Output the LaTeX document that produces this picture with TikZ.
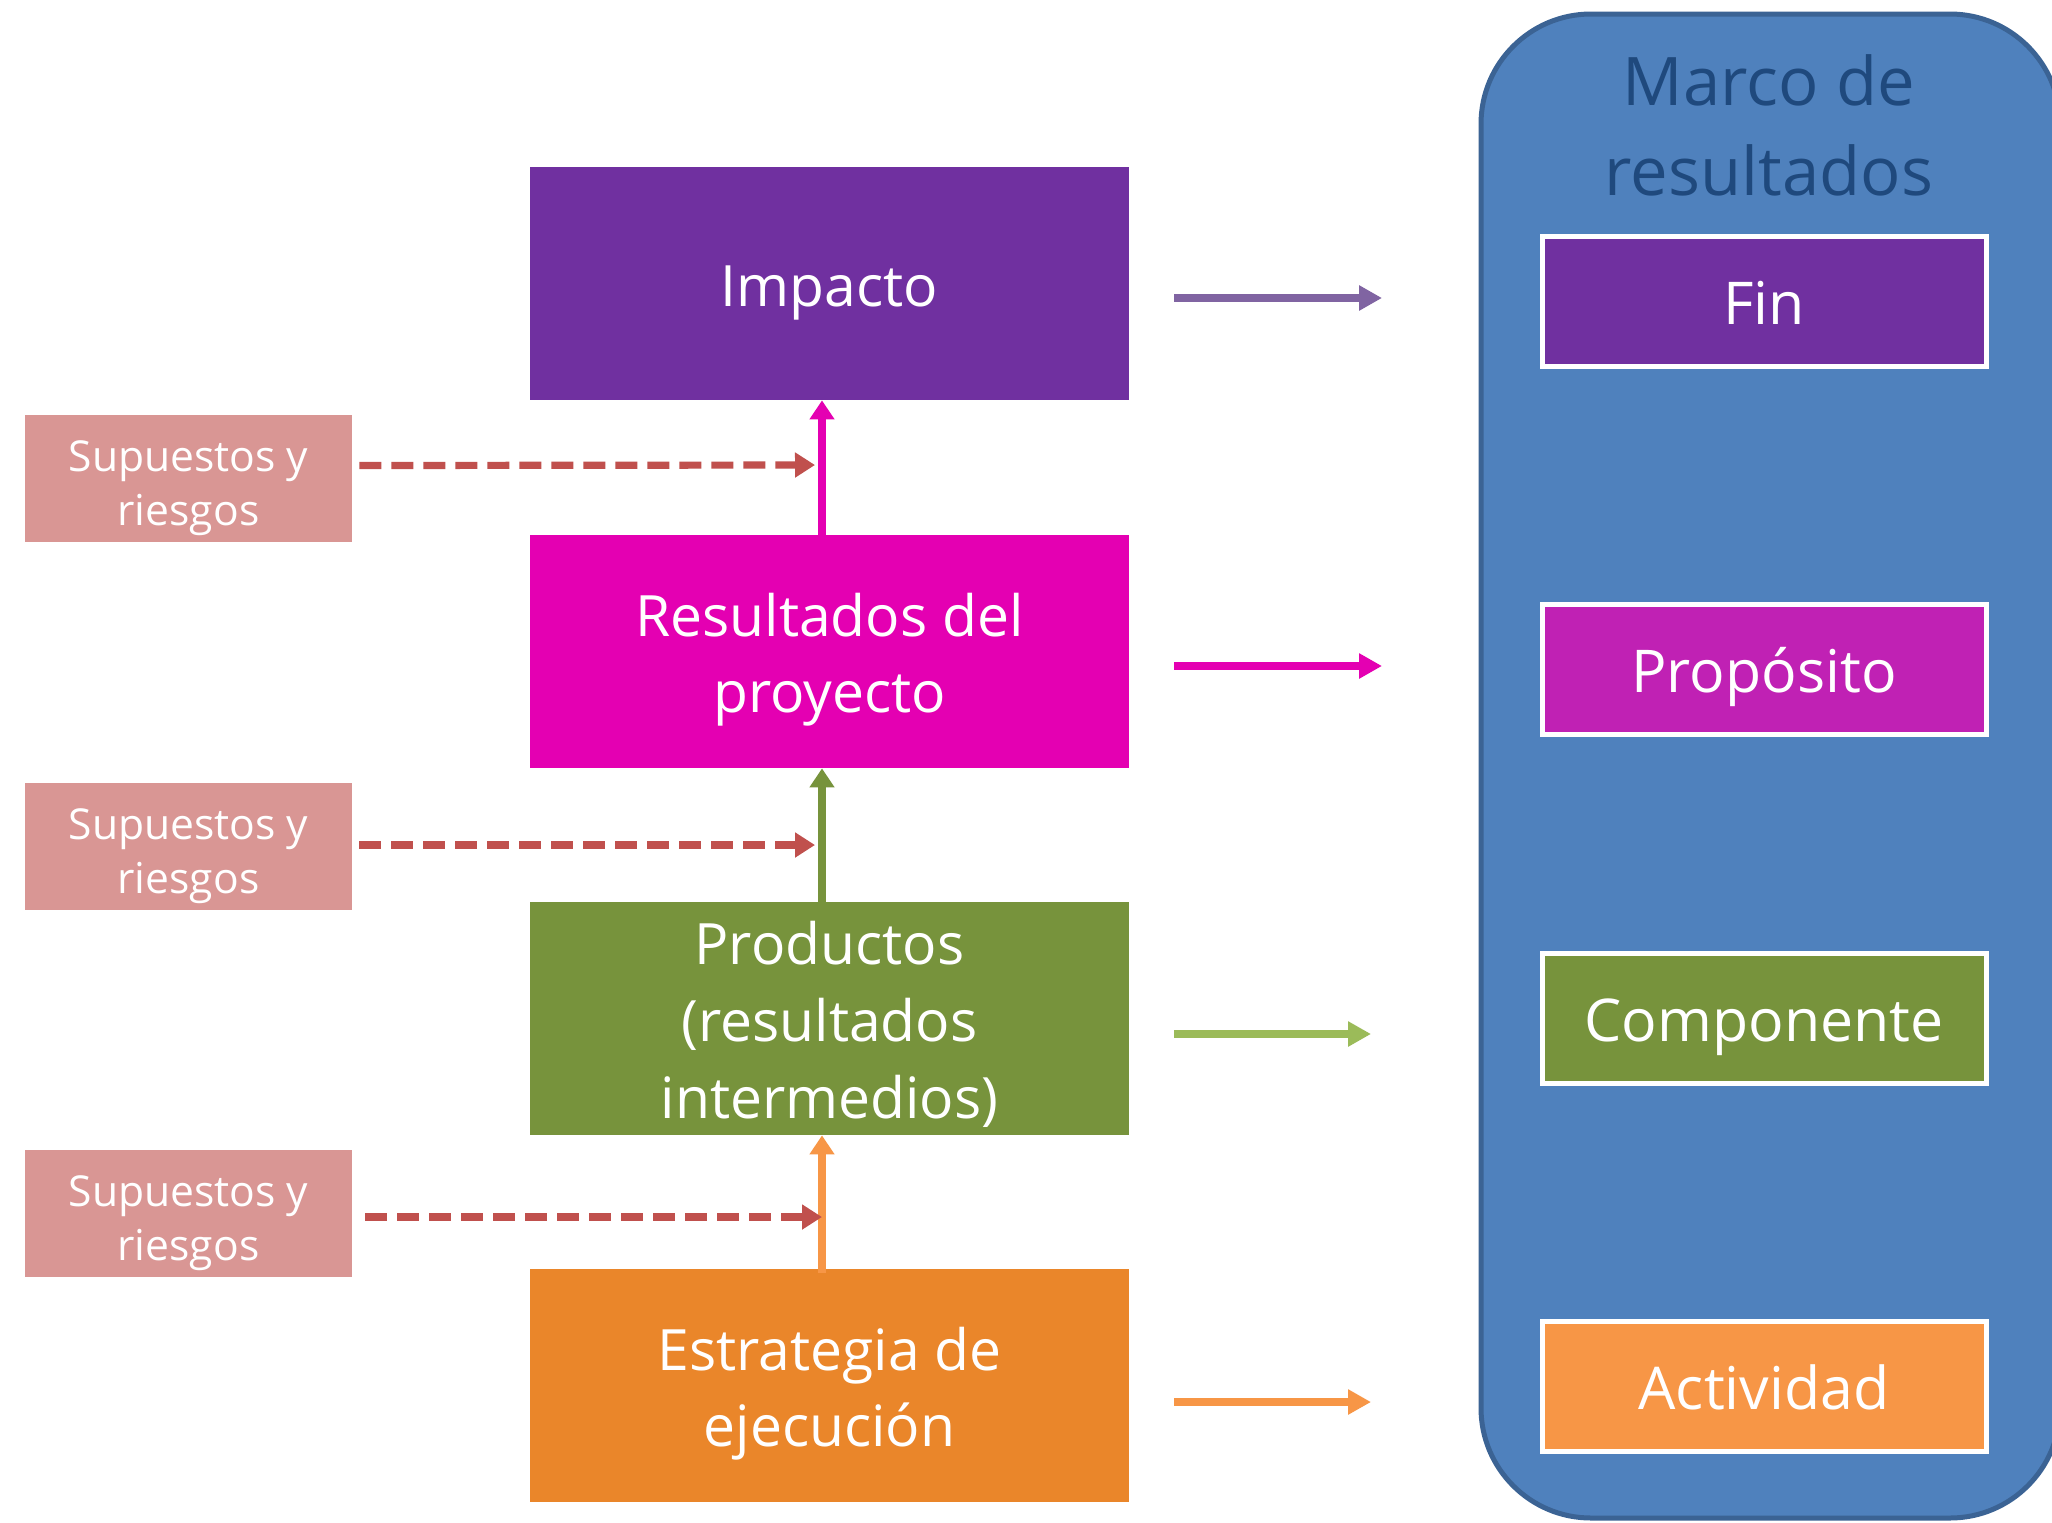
\documentclass[tikz,border=0pt]{standalone}
\usepackage{fontspec}
\setmainfont{Open Sans}
\usetikzlibrary{arrows.meta}
\definecolor{cImp}{HTML}{7030A0}
\definecolor{cRes}{HTML}{E400B2}
\definecolor{cProd}{HTML}{77933C}
\definecolor{cEst}{HTML}{EA862A}
\definecolor{cSup}{HTML}{D99694}
\definecolor{cDash}{HTML}{C0504D}
\definecolor{cArrPur}{HTML}{8064A2}
\definecolor{cArrGrn}{HTML}{9BBB59}
\definecolor{cArrOra}{HTML}{F79646}
\definecolor{cBlue}{HTML}{4F81BD}
\definecolor{cBlueDk}{HTML}{3B6394}
\definecolor{cTitle}{HTML}{1F497D}
\definecolor{cProp}{HTML}{C021B4}
\newcommand\MainTop{\rule{0pt}{30.5pt}}
\newcommand\MainBot{\rule[-7.5pt]{0pt}{0pt}}
\newcommand\SupTop{\rule{0pt}{25.8pt}}
\newcommand\SupBot{\rule[-6pt]{0pt}{0pt}}
\newcommand\MfTop{\rule{0pt}{30.5pt}}
\newcommand\MfBot{\rule[-7.5pt]{0pt}{0pt}}
\tikzset{
  mainbox/.style={inner sep=0pt, minimum width=299.5pt, minimum height=116.5pt, text=white, align=center,
    font=\fontsize{28.5}{38.3}\selectfont},
  supbox/.style={inner sep=0pt, fill=cSup, minimum width=163.5pt, minimum height=63.5pt, text=white, align=center,
    font=\fontsize{21.3}{27}\selectfont},
  mfbox/.style={inner sep=0pt, draw=white, line width=2.5pt, minimum width=222pt, minimum height=65pt, text=white, align=center,
    font=\fontsize{29.5}{36}\selectfont},
  uparrow/.style={line width=4.2pt, -{Triangle[length=9.5pt,width=12pt]}},
  rarrow/.style={line width=3.8pt, -{Triangle[length=11.5pt,width=12pt]}},
  dasharrow/.style={cDash, line width=3.6pt, dash pattern=on 11pt off 5pt, -{Triangle[length=10pt,width=12pt]}}
}
\begin{document}
\begin{tikzpicture}[x=0.5pt,y=-0.5pt]
\useasboundingbox (0,0) rectangle (2052,1522);
\fill[white] (0,0) rectangle (2052,1522);
% Marco de resultados panel
\draw[fill=cBlue, draw=cBlueDk, line width=2.5pt, rounded corners=55pt] (1481,14) rectangle (2060,1518);
\node[text=cTitle, align=center, font=\fontsize{33.5}{45}\selectfont] (marco) at (1769,125) {Marco de\\resultados};
% right boxes
\node[mfbox, fill=cImp] (fin) at (1764,301.5) {\MfTop Fin\MfBot};
\node[mfbox, fill=cProp] (prop) at (1764,669.5) {\MfTop Propósito\MfBot};
\node[mfbox, fill=cProd] (comp) at (1764,1018.5) {\MfTop Componente\MfBot};
\node[mfbox, fill=cArrOra] (act) at (1764,1386.5) {\MfTop Actividad\MfBot};
% main boxes
\node[mainbox, fill=cImp] (imp) at (829.5,283.5) {\MainTop Impacto\MainBot};
\node[mainbox, fill=cRes] (res) at (829.5,651.5) {\MainTop Resultados del\\proyecto\MainBot};
\node[mainbox, fill=cProd] (prod) at (829.5,1018.5) {\MainTop Productos\\(resultados\\intermedios)\MainBot};
\node[mainbox, fill=cEst] (est) at (829.5,1385.5) {\MainTop Estrategia de\\ejecución\MainBot};
% supuestos
\node[supbox] (sup1) at (188.5,478.5) {\SupTop Supuestos y\\riesgos\SupBot};
\node[supbox] (sup2) at (188.5,846.5) {\SupTop Supuestos y\\riesgos\SupBot};
\node[supbox] (sup3) at (188.5,1213.5) {\SupTop Supuestos y\\riesgos\SupBot};
% vertical arrows
\draw[uparrow, cRes] ([xshift=-3.75pt,yshift=-2pt]res.north) -- ([xshift=-3.75pt]imp.south);
\draw[uparrow, cProd] ([xshift=-3.75pt,yshift=-2pt]prod.north) -- ([xshift=-3.75pt]res.south);
\draw[uparrow, cArrOra] ([xshift=-3.75pt,yshift=-2pt]est.north) -- ([xshift=-3.75pt]prod.south);
% dashed arrows
\coordinate (t1) at (815,465);
\coordinate (t2) at (815,845);
\coordinate (t3) at (822,1217);
\draw[dasharrow] ([xshift=3.5pt,yshift=6.5pt]sup1.east) -- (t1);
\draw[dasharrow] ([xshift=3.5pt,yshift=0.75pt]sup2.east) -- (t2);
\draw[dasharrow] ([xshift=6.5pt,yshift=-1.75pt]sup3.east) -- (t3);
% right arrows
\coordinate (r1) at (1382,298);
\coordinate (r2) at (1382,666);
\coordinate (r3) at (1371,1034);
\coordinate (r4) at (1371,1402);
\draw[rarrow, cArrPur] ([xshift=22.5pt,yshift=-7.25pt]imp.east) -- (r1);
\draw[rarrow, cRes] ([xshift=22.5pt,yshift=-7.25pt]res.east) -- (r2);
\draw[rarrow, cArrGrn] ([xshift=22.5pt,yshift=-7.75pt]prod.east) -- (r3);
\draw[rarrow, cArrOra] ([xshift=22.5pt,yshift=-8.25pt]est.east) -- (r4);
\end{tikzpicture}
\end{document}
